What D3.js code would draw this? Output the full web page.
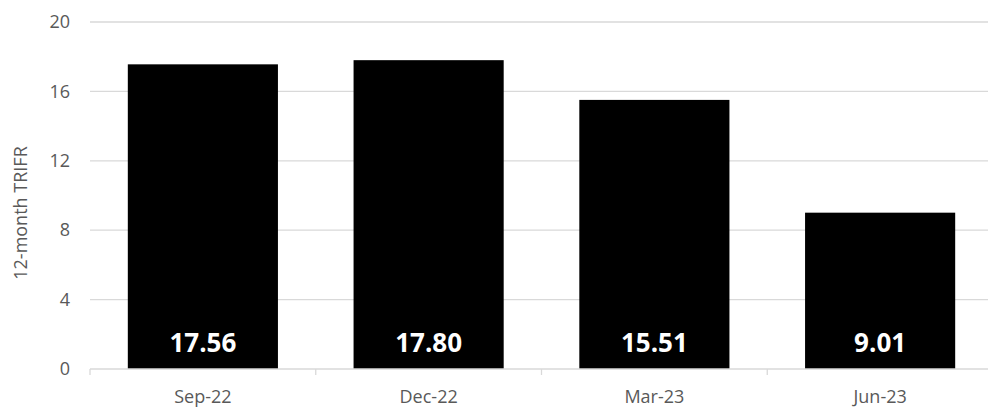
<!DOCTYPE html>
<html><head><meta charset="utf-8">
<script src="https://cdn.jsdelivr.net/npm/d3@7"></script>
<style>body{margin:0;background:#fff}svg{display:block}</style>
</head><body>
<script>
const categories = ["Sep-22","Dec-22","Mar-23","Jun-23"];
const values = [17.56, 17.80, 15.51, 9.01];
const valueLabels = ["17.56","17.80","15.51","9.01"];
const yTicks = [0,4,8,12,16,20];
const yTitle = "12-month TRIFR";

const W=988,H=407;
const svg=d3.select("body").append("svg").attr("width",W).attr("height",H);
const x=d3.scaleBand().domain(categories).range([90,993]).paddingInner(0.335).paddingOuter(0.1675);
const y=d3.scaleLinear().domain([0,20]).range([369,22]);
const font="'Open Sans', sans-serif";

// gridlines
svg.append("g").selectAll("line").data(yTicks.filter(d=>d>0)).join("line")
 .attr("x1",90).attr("x2",W).attr("y1",d=>y(d)).attr("y2",d=>y(d))
 .attr("stroke","#d9d9d9").attr("stroke-width",1.3);

// y labels
const ya=svg.append("g").attr("transform","translate(70,0)")
 .call(d3.axisLeft(y).tickValues(yTicks).tickSize(0).tickPadding(0));
ya.select(".domain").remove();
ya.selectAll("text").attr("font-family",font).attr("font-size",18).attr("fill","#595959");

// bars
svg.append("g").selectAll("rect").data(values).join("rect")
 .attr("x",(d,i)=>x(categories[i])).attr("width",x.bandwidth())
 .attr("y",d=>y(d)).attr("height",d=>y(0)-y(d)).attr("fill","#000");

// x axis
const step=x.step();
const bounds=d3.range(categories.length).map(i=>x(categories[i])-x.paddingOuter()*step);
const xa=svg.append("g").attr("transform",`translate(0,${y(0)})`)
 .call(d3.axisBottom(x).tickSize(0).tickPadding(21));
xa.select(".domain").remove();
xa.selectAll("text").attr("font-family",font).attr("font-size",18).attr("fill","#595959");
svg.append("line").attr("x1",90).attr("x2",W).attr("y1",y(0)).attr("y2",y(0)).attr("stroke","#d9d9d9").attr("stroke-width",1.3);
svg.append("g").selectAll("line").data(bounds).join("line")
 .attr("x1",d=>d).attr("x2",d=>d).attr("y1",y(0)).attr("y2",y(0)+6)
 .attr("stroke","#d9d9d9").attr("stroke-width",1.3);

// value labels
svg.append("g").selectAll("text").data(values).join("text")
 .attr("x",(d,i)=>x(categories[i])+x.bandwidth()/2).attr("y",352)
 .attr("text-anchor","middle").attr("font-family",font).attr("font-weight","bold")
 .attr("font-size",26).attr("fill","#fff").text((d,i)=>valueLabels[i]);

// y title
svg.append("text").attr("transform","translate(27,213) rotate(-90)")
 .attr("text-anchor","middle").attr("font-family",font).attr("font-size",18)
 .attr("fill","#595959").text(yTitle);
</script>
</body></html>
